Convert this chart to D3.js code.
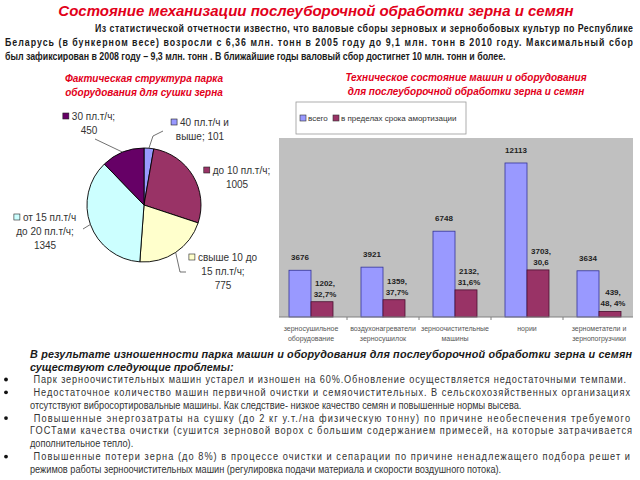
<!DOCTYPE html>
<html><head><meta charset="utf-8">
<script src="https://cdn.jsdelivr.net/npm/d3@7"></script>
<style>body{margin:0;background:#fff} svg{display:block}</style>
</head><body>
<svg id="c" width="640" height="480"></svg>
<script>
// ---------- data ----------
const pieCategories = ["40 пл.т/ч и выше", "до 10 пл.т/ч", "свыше 10 до 15 пл.т/ч", "от 15 пл.т/ч до 20 пл.т/ч", "30 пл.т/ч"];
const pieValues = [101, 1005, 775, 1345, 450];
const pieLabelLines = [["40 пл.т/ч и", "выше; 101"], ["до 10 пл.т/ч;", "1005"], ["свыше 10 до", "15 пл.т/ч;", "775"], ["от 15 пл.т/ч", "до 20 пл.т/ч;", "1345"], ["30 пл.т/ч;", "450"]];
const pieColors = ["#9999FF", "#993366", "#FFFFCC", "#CCFFFF", "#660066"];

const barCategories = ["зерносушильное\nоборудование", "воздухонагреватели\nзерносушилок", "зерноочистительные\nмашины", "нории", "зернометатели и\nзернопогрузчики"];
const seriesNames = ["всего", "в пределах срока амортизации"];
const totalValues = [3676, 3921, 6748, 12113, 3634];
const amortValues = [1202, 1359, 2132, 3703, 439];
const amortPctLabels = ["32,7%", "37,7%", "31,6%", "30,6", "48, 4%"];
const seriesColors = ["#9999FF", "#993366"];

const mainTitle = "Состояние механизации послеуборочной обработки зерна и семян";
const introLines = [
  "Из статистической отчетности известно, что валовые сборы зерновых и зернобобовых культур по Республике",
  "Беларусь (в бункерном весе) возросли с 6,36 млн. тонн в 2005 году до 9,1 млн. тонн в 2010 году. Максимальный сбор",
  "был зафиксирован в 2008 году – 9,3 млн. тонн . В ближайшие годы валовый сбор достигнет 10 млн. тонн и более."
];
const pieTitle = ["Фактическая структура парка", "оборудования для сушки зерна"];
const barTitle = ["Техническое состояние машин и оборудования", "для послеуборочной обработки зерна и семян"];
const conclusionLines = [
  "В результате изношенности парка машин и оборудования для послеуборочной обработки зерна и семян",
  "существуют следующие проблемы:"
];
const problems = [
  [" Парк зерноочистительных машин устарел и изношен на 60%.Обновление осуществляется недостаточными темпами."],
  [" Недостаточное количество машин первичной очистки и семяочистительных. В сельскохозяйственных организациях",
   "отсутствуют вибросортировальные машины. Как следствие- низкое качество семян и повышенные нормы высева."],
  [" Повышенные энергозатраты на сушку (до 2 кг у.т./на физическую тонну) по причине необеспечения требуемого",
   "ГОСТами качества очистки (сушится зерновой ворох с большим содержанием примесей, на которые затрачивается",
   "дополнительное тепло)."],
  [" Повышенные потери зерна (до 8%) в процессе очистки и сепарации по причине ненадлежащего подбора решет и",
   "режимов работы зерноочистительных машин (регулировка подачи материала и скорости воздушного потока)."]
];

// ---------- drawing ----------
const svg = d3.select("#c");
const F = "'Liberation Sans', Arial, sans-serif";
const FN = "'Liberation Sans Narrow', 'Liberation Sans', Arial, sans-serif";
const RED = "#E2001A";

// Paragraph block: condensed glyphs (uniform horizontal scale), lines justified by spacing only
function paragraph(parent, lines, x, ys, xs, widths, opts) {
  const g = parent.append("g");
  const texts = lines.map((ln, i) => g.append("text").attr("x", xs[i]).attr("y", ys[i]).text(ln)
    .attr("font-family", opts.family).attr("font-size", opts.size)
    .attr("font-weight", opts.weight || "normal").attr("font-style", opts.style || "normal")
    .attr("fill", opts.fill).attr("xml:space", "preserve"));
  const nat = texts.map(t => t.node().getComputedTextLength());
  let k = 1;
  widths.forEach((w, i) => { if (w) k = Math.min(k, w / nat[i]); });
  g.attr("transform", `translate(${x},0) scale(${k},1)`);
  texts.forEach((t, i) => {
    t.attr("x", xs[i] / k);
    if (widths[i] && opts.justify[i]) t.attr("textLength", widths[i] / k).attr("lengthAdjust", "spacing");
  });
  return g;
}

// main title
svg.append("text").attr("x", 316).attr("y", 16).attr("text-anchor", "middle")
  .attr("font-family", F).attr("font-size", 15).attr("font-weight", "bold").attr("font-style", "italic")
  .attr("fill", RED).text(mainTitle);

// intro paragraph
paragraph(svg, introLines, 5, [32, 46, 60], [90, 0, 0], [538, 628, 501],
  {family: FN, size: 11, weight: "bold", fill: "#1a1a1a", justify: [true, true, false]});

// ---------- pie ----------
const pcx = 144, pcy = 205, pr = 57;
svg.append("g").selectAll("text").data(pieTitle).join("text")
  .attr("x", pcx).attr("y", (d, i) => 82 + i * 14).attr("text-anchor", "middle")
  .attr("font-family", F).attr("font-size", 10).attr("font-weight", "bold").attr("font-style", "italic")
  .attr("fill", RED).text(d => d);

const pie = d3.pie().sort(null).value(d => d)(pieValues);
const arc = d3.arc().innerRadius(0).outerRadius(pr);
const pg = svg.append("g").attr("transform", `translate(${pcx},${pcy})`);
pg.selectAll("path").data(pie).join("path").attr("d", arc)
  .attr("fill", (d, i) => pieColors[i]).attr("stroke", "#000").attr("stroke-width", 0.9);

// label layout (centre of label block relative to pie centre, first-line y) and leader bends
const pieLabelPos = [{dx: 56, dy: -83}, {dx: 93, dy: -35}, {dx: 79, dy: 52}, {dx: -99, dy: 12}, {dx: -55, dy: -89}];
const leaderBends = [[[19, -74], [9, -69]], null, [[42, 67], [36, 67]], [[-61, 24]], [[-49, -66]]];
pie.forEach((d, i) => {
  const mid = (d.startAngle + d.endAngle) / 2;
  const ax = pr * Math.sin(mid), ay = -pr * Math.cos(mid);
  if (leaderBends[i]) {
    pg.append("path").attr("d", d3.line()([...leaderBends[i], [ax, ay]]))
      .attr("fill", "none").attr("stroke", "#333").attr("stroke-width", 0.7);
  }
  const p = pieLabelPos[i];
  pieLabelLines[i].forEach((ln, j) => {
    const t = pg.append("text").attr("y", p.dy + 4 + j * 14).attr("font-family", F).attr("font-size", 10)
      .attr("fill", "#333").text(ln);
    if (j === 0) {
      const w = t.node().getComputedTextLength();
      const xs = p.dx - (w + 9) / 2;
      pg.append("rect").attr("x", xs).attr("y", p.dy - 3).attr("width", 6).attr("height", 6)
        .attr("fill", pieColors[i]).attr("stroke", "#222").attr("stroke-width", 0.6);
      t.attr("x", xs + 9);
    } else {
      t.attr("x", p.dx).attr("text-anchor", "middle");
    }
  });
});

// ---------- bar chart ----------
svg.append("g").selectAll("text").data(barTitle).join("text")
  .attr("x", 466).attr("y", (d, i) => 81 + i * 14).attr("text-anchor", "middle")
  .attr("font-family", F).attr("font-size", 10).attr("font-weight", "bold").attr("font-style", "italic")
  .attr("fill", RED).text(d => d);

const plot = {left: 279, right: 633, top: 138, bottom: 317};
const x0 = d3.scaleBand().domain(barCategories).range([275, 635]);
const x1 = d3.scaleBand().domain(seriesNames).range([14, 58]);
const y = d3.scaleLinear().domain([0, 14000]).range([plot.bottom, plot.top + 1]);

const bg = svg.append("g");
bg.append("rect").attr("x", plot.left).attr("y", plot.top).attr("width", plot.right - plot.left)
  .attr("height", plot.bottom - plot.top).attr("fill", "#C0C0C0");

const rows = barCategories.map((c, i) => ({c, i, vals: [totalValues[i], amortValues[i]]}));
const grp = bg.selectAll("g.cat").data(rows).join("g").attr("class", "cat")
  .attr("transform", d => `translate(${x0(d.c)},0)`);
grp.selectAll("rect").data(d => d.vals.map((v, k) => ({v, k}))).join("rect")
  .attr("x", d => x1(seriesNames[d.k])).attr("width", x1.bandwidth())
  .attr("y", d => y(d.v)).attr("height", d => y(0) - y(d.v))
  .attr("fill", d => seriesColors[d.k]).attr("stroke", d => d.k === 0 ? "#333399" : "#4a1030").attr("stroke-width", 0.8);

// value labels
grp.append("text").attr("x", x1(seriesNames[0]) + x1.bandwidth() / 2).attr("y", d => y(d.vals[0]) - 10)
  .attr("text-anchor", "middle").attr("font-family", F).attr("font-size", 8).attr("font-weight", "bold")
  .attr("fill", "#222").text(d => d.vals[0]);
grp.each(function (d) {
  const g = d3.select(this);
  const cx = x1(seriesNames[1]) + x1.bandwidth() / 2 + 3;
  [d.vals[1] + ",", amortPctLabels[d.i]].forEach((s, j) => {
    g.append("text").attr("x", cx).attr("y", y(d.vals[1]) - 16 + j * 11).attr("text-anchor", "middle")
      .attr("font-family", F).attr("font-size", 8).attr("font-weight", "bold").attr("fill", "#222").text(s);
  });
});

// x axis
const xAxis = d3.axisBottom(x0).tickSize(0).tickFormat("");
const axG = bg.append("g").attr("transform", `translate(0,${plot.bottom})`).call(xAxis);
axG.select(".domain").attr("d", `M${plot.left},0H${plot.right}`).attr("stroke", "#808080");
x0.domain().slice(1).forEach(c => {
  axG.append("line").attr("x1", x0(c)).attr("x2", x0(c)).attr("y1", 0).attr("y2", 3).attr("stroke", "#808080");
});
barCategories.forEach(c => {
  c.split("\n").forEach((ln, j) => {
    axG.append("text").attr("x", x0(c) + x0.bandwidth() / 2).attr("y", 14 + j * 10).attr("text-anchor", "middle")
      .attr("font-family", F).attr("font-size", 7).attr("fill", "#555").text(ln);
  });
});

// legend
const lg = svg.append("g");
lg.append("rect").attr("x", 296).attr("y", 102).attr("width", 170).attr("height", 32)
  .attr("fill", "#fff").attr("stroke", "#999").attr("stroke-width", 0.8);
const legX = [300, 333];
seriesNames.forEach((s, k) => {
  lg.append("rect").attr("x", legX[k]).attr("y", 115).attr("width", 6).attr("height", 6)
    .attr("fill", seriesColors[k]).attr("stroke", "#333").attr("stroke-width", 0.6);
  lg.append("text").attr("x", legX[k] + 8).attr("y", 121).attr("font-family", F).attr("font-size", 8)
    .attr("fill", "#333").text(s);
});

// ---------- conclusions ----------
const LEFT = 30;
paragraph(svg, conclusionLines, LEFT, [358, 370.5], [0, 0], [602, null],
  {family: F, size: 10.8, weight: "bold", style: "italic", fill: "#1a1a1a", justify: [true, false]});

const bodyLines = [], bodyYs = [], bodyWidths = [], bodyJustify = [], bulletYs = [];
// measured line widths (justified lines fill to the right margin)
const problemWidths = [[596], [600, 498], [600, 602, 118], [600, 472]];
let yy = 383;
problems.forEach((lines, pi) => {
  bulletYs.push(yy);
  lines.forEach((ln, j) => {
    bodyLines.push(ln); bodyYs.push(yy); bodyWidths.push(problemWidths[pi][j]);
    bodyJustify.push(j < lines.length - 1 || pi === 0);
    yy += 12.85;
  });
});
svg.append("g").selectAll("circle").data(bulletYs).join("circle")
  .attr("cx", 6).attr("cy", d => d - 3.5).attr("r", 1.9).attr("fill", "#111");
paragraph(svg, bodyLines, LEFT, bodyYs, bodyLines.map(() => 0), bodyWidths,
  {family: FN, size: 10.8, fill: "#333", justify: bodyJustify});
</script>
</body></html>
